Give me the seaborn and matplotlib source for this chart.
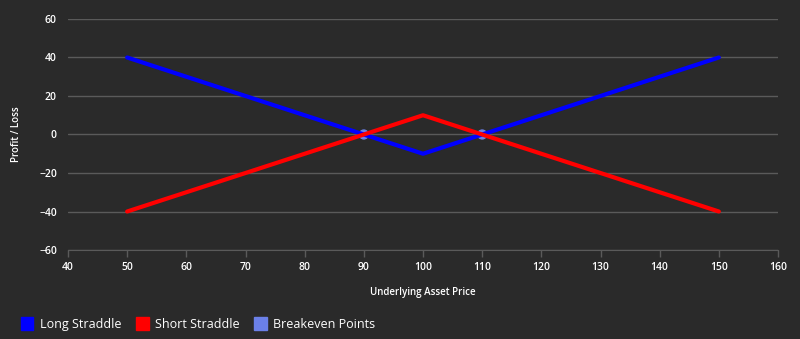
import pandas as pd
import numpy as np
import matplotlib
matplotlib.use('Agg')
import matplotlib.pyplot as plt
from matplotlib.patches import Patch
import seaborn as sns

# data
prices = [50, 100, 150]
long_straddle = [40, -10, 40]
short_straddle = [-40, 10, -40]
breakeven_x = [90, 110]
breakeven_y = [0, 0]

x_ticks = [40, 50, 60, 70, 80, 90, 100, 110, 120, 130, 140, 150, 160]
y_ticks = [-60, -40, -20, 0, 20, 40, 60]

bg = '#2a2a2a'
sns.set_style('dark')
plt.rcParams['font.family'] = ['Open Sans', 'DejaVu Sans']

df = pd.DataFrame({'price': prices * 2,
                   'pl': long_straddle + short_straddle,
                   'strategy': ['Long Straddle'] * 3 + ['Short Straddle'] * 3})
be = pd.DataFrame({'price': breakeven_x, 'pl': breakeven_y})

fig = plt.figure(figsize=(8, 3.39), dpi=100, facecolor=bg)
ax = fig.add_axes([0.085, 0.2625, 0.8875, 0.6815])
ax.set_facecolor(bg)

# grid lines
for y in y_ticks:
    ax.axhline(y, color='#5a5a5a', lw=1, zorder=0)

sns.scatterplot(data=be, x='price', y='pl', color='#6b80e8', s=55, ax=ax,
                zorder=1, edgecolor='none', legend=False)
sns.lineplot(data=df, x='price', y='pl', hue='strategy',
             palette={'Long Straddle': '#0000ff', 'Short Straddle': '#ff0000'},
             lw=3, ax=ax, legend=False, zorder=2)

ax.set_xlim(40, 160)
ax.set_ylim(-60, 60)
ax.set_xticks(x_ticks)
ax.set_yticks(y_ticks)
ax.tick_params(axis='x', colors='#5a5a5a', labelcolor='white', labelsize=7.5,
               length=5, width=1, direction='out', bottom=True)
ax.tick_params(axis='y', colors=bg, labelcolor='white', labelsize=7.5, length=0, pad=8)
for lab in ax.get_xticklabels() + ax.get_yticklabels():
    lab.set_fontweight('semibold')
for s in ['top', 'right', 'left']:
    ax.spines[s].set_visible(False)
ax.spines['bottom'].set_color('#5a5a5a')
ax.grid(False)

ax.set_xlabel('Underlying Asset Price', color='white', fontsize=7, fontweight='semibold', labelpad=10)
ax.set_ylabel('Profit / Loss', color='white', fontsize=7, fontweight='semibold', labelpad=12)

handles = [Patch(color='#0000ff', label='Long Straddle'),
           Patch(color='#ff0000', label='Short Straddle'),
           Patch(color='#6b80e8', label='Breakeven Points')]
leg = fig.legend(handles=handles, loc='center left', bbox_to_anchor=(0.012, 0.045),
                 ncol=3, frameon=False, fontsize=9, handlelength=1.0, handleheight=1.3,
                 columnspacing=1.2, handletextpad=0.5)
for t in leg.get_texts():
    t.set_color('white')

fig.savefig('out.png', dpi=100, facecolor=bg)
